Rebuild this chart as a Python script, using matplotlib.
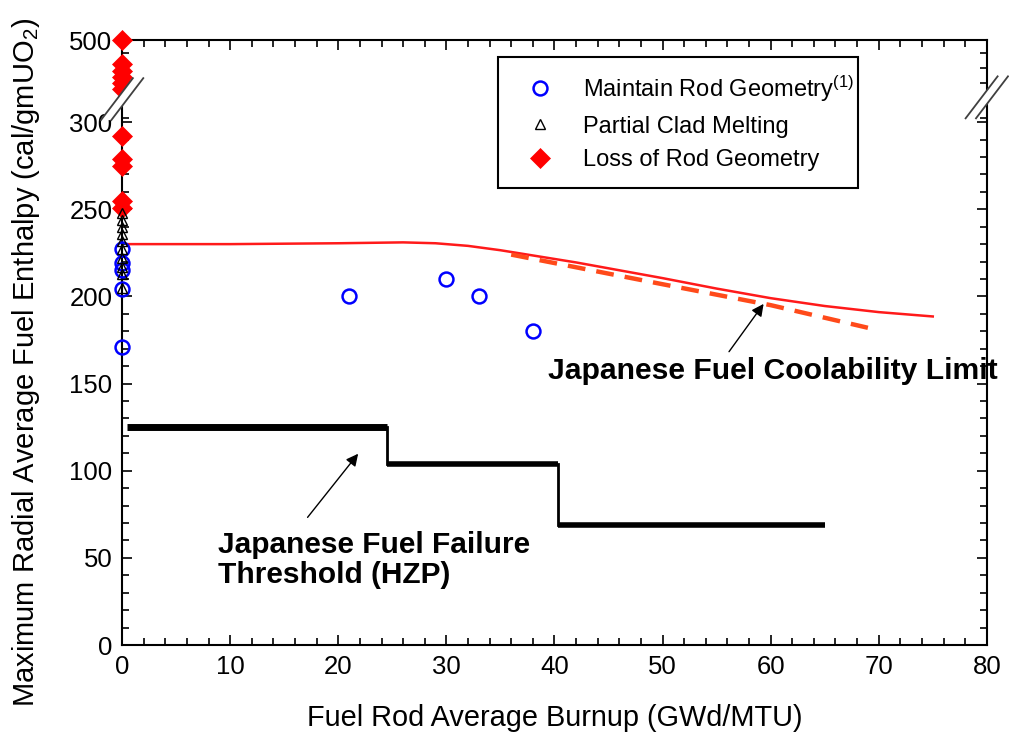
import numpy as np
import matplotlib
matplotlib.use("Agg")
import matplotlib.pyplot as plt
from matplotlib.ticker import FixedLocator, MultipleLocator

plt.rcParams['font.family'] = ['Liberation Sans', 'DejaVu Sans']
plt.rcParams['mathtext.fontset'] = 'custom'
plt.rcParams['mathtext.rm'] = 'Liberation Sans'
plt.rcParams['mathtext.it'] = 'Liberation Sans:italic'
plt.rcParams['mathtext.bf'] = 'Liberation Sans:bold'

# ---------------- data ----------------
maintain_x = [0, 0, 0, 0, 0, 21, 30, 33, 38]
maintain_y = [227, 219, 215, 204, 171, 200, 210, 200, 180]

melting_x = [0, 0, 0, 0, 0, 0, 0, 0, 0, 0]
melting_y = [248, 244, 240, 236, 232, 227, 222, 217, 213, 205]

loss_x = [0, 0, 0, 0, 0, 0, 0, 0, 0, 0, 0]
loss_y = [500, 442, 425, 410, 395, 380, 292, 279, 275, 255, 251]

cool_x = [0.5, 10, 20, 26, 29, 32, 35, 38, 42, 46, 50, 55, 60, 65, 70, 75]
cool_y = [230, 230, 230.5, 231, 230.5, 229, 226.5, 223.5, 219.5, 215, 210.5, 204.5, 199, 194.5, 191, 188.5]

cool_dash_x = [36, 50, 60, 69]
cool_dash_y = [224, 207, 195, 182]

fail_x = [0.5, 24.5, 40.3, 65]
fail_y = [125, 104, 69]

y_ticks = [0, 50, 100, 150, 200, 250, 300, 500]
x_ticks = [0, 10, 20, 30, 40, 50, 60, 70, 80]

# ---------------- broken y scale ----------------
K = 0.235


def fwd(y):
    y = np.asarray(y, dtype=float)
    return np.where(y <= 300, y, 300 + (y - 300) * K)


def inv(v):
    v = np.asarray(v, dtype=float)
    return np.where(v <= 300, v, 300 + (v - 300) / K)


fig = plt.figure(figsize=(10.09, 7.44), dpi=100)
ax = fig.add_axes([0.121, 0.133, 0.857, 0.813])
ax.set_yscale('function', functions=(fwd, inv))
ax.set_xlim(0, 80)
ax.set_ylim(0, 500)

# step threshold line
for i in range(len(fail_y)):
    ax.plot([fail_x[i], fail_x[i + 1]], [fail_y[i], fail_y[i]], color='black',
            lw=5.0 if i == 0 else 4.0, solid_capstyle='butt', zorder=3)
for i in range(1, len(fail_y)):
    ax.plot([fail_x[i], fail_x[i]], [fail_y[i - 1], fail_y[i]], color='black',
            lw=2.0, zorder=3)

# coolability limits
ax.plot(cool_x, cool_y, color='#ff1a1a', lw=1.8, zorder=3)
ax.plot(cool_dash_x, cool_dash_y, color='#ff4a1a', lw=3.2, dashes=(4, 2.5), zorder=3)

# points
ax.plot(maintain_x, maintain_y, 'o', ms=10, mfc='none', mec='#0000ff', mew=1.8,
        clip_on=False, zorder=5, label=r'Maintain Rod Geometry$^{(1)}$')
ax.plot(melting_x, melting_y, '^', ms=7.5, mfc='none', mec='black', mew=1.0,
        clip_on=False, zorder=6, label='Partial Clad Melting')
ax.plot(loss_x, loss_y, 'D', ms=10.5, mfc='#ff0000', mec='#ff0000', mew=0.5,
        clip_on=False, zorder=4, label='Loss of Rod Geometry')

# ticks
ax.yaxis.set_major_locator(FixedLocator(y_ticks))
ax.set_yticklabels([str(t) for t in y_ticks])
minor_y = [t for t in range(10, 300, 10) if t % 50 != 0] + [310, 395, 432, 468]
ax.yaxis.set_minor_locator(FixedLocator(minor_y))
ax.xaxis.set_major_locator(FixedLocator(x_ticks))
ax.xaxis.set_minor_locator(MultipleLocator(2))
ax.tick_params(which='both', direction='in', top=True, right=True, width=1.2,
               labelsize=18.5, pad=7)
ax.tick_params(which='major', length=7)
ax.tick_params(which='minor', length=5)
for s in ax.spines.values():
    s.set_linewidth(1.5)

ax.set_xlabel('Fuel Rod Average Burnup (GWd/MTU)', fontsize=20.8, labelpad=18)
ax.set_ylabel(r'Maximum Radial Average Fuel Enthalpy (cal/gmUO$_2$)', fontsize=21)
ax.yaxis.set_label_coords(-0.093, 0.468)

# annotations
ax.annotate('', xy=(59.5, 197), xytext=(56.0, 167),
            arrowprops=dict(arrowstyle='-|>', color='black', lw=1.0, mutation_scale=18))
ax.text(39.4, 157, 'Japanese Fuel Coolability Limit', fontsize=21.7, fontweight='bold',
        ha='left', va='center')
ax.annotate('', xy=(22.0, 111), xytext=(17.0, 72),
            arrowprops=dict(arrowstyle='-|>', color='black', lw=1.0, mutation_scale=18))
ax.text(8.9, 49, 'Japanese Fuel Failure\nThreshold (HZP)', fontsize=21.5,
        fontweight='bold', ha='left', va='center', linespacing=1.1)

# legend
leg = ax.legend(loc='upper left', bbox_to_anchor=(0.4347, 0.755, 0.416, 0.217),
                mode='expand', fontsize=17,
                frameon=True, fancybox=False, edgecolor='black', framealpha=1,
                borderpad=0.7, labelspacing=0.5, handlelength=2.2,
                handletextpad=0.7, borderaxespad=0)
leg.get_frame().set_linewidth(1.5)


# axis break marks
def brk(xc, yc):
    dx, dy = 0.0185, 0.0347
    off = 0.006
    poly = plt.Polygon([[xc - dx - off, yc - dy], [xc + dx - off, yc + dy],
                        [xc + dx + off, yc + dy], [xc - dx + off, yc - dy]],
                       closed=True, transform=ax.transAxes, facecolor='white',
                       edgecolor='none', clip_on=False, zorder=10)
    ax.add_patch(poly)
    for o in (-off, off):
        ax.plot([xc - dx + o, xc + dx + o], [yc - dy, yc + dy], color='#404040',
                lw=1.3, transform=ax.transAxes, clip_on=False, zorder=11)


brk(0.0, 0.9025)
brk(1.0, 0.9055)

fig.savefig('out.png', dpi=100)
